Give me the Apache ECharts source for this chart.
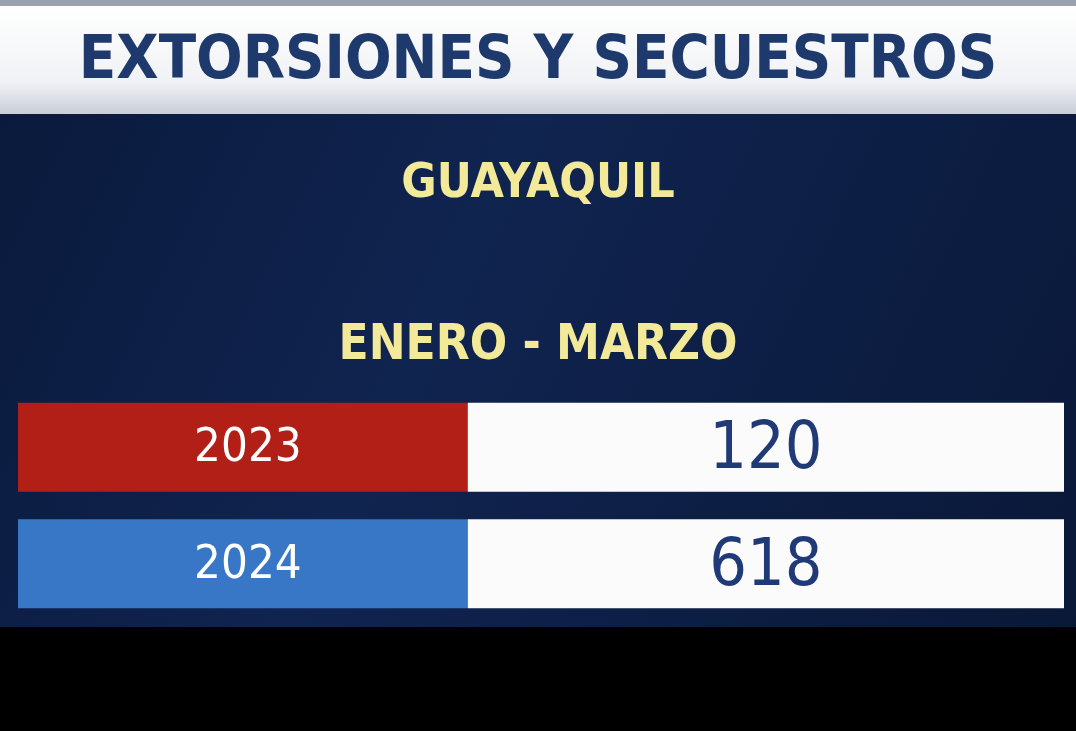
<!DOCTYPE html>
<html>
<head>
<meta charset="utf-8">
<script src="https://cdn.jsdelivr.net/npm/echarts@6/dist/echarts.min.js"></script>
<style>
  html, body { margin: 0; padding: 0; background: #000; }
  #chart { width: 1076px; height: 731px; }
</style>
</head>
<body>
<div id="chart"></div>
<script>
var titleText = 'EXTORSIONES Y SECUESTROS';
var cityText = 'GUAYAQUIL';
var periodText = 'ENERO - MARZO';
var years = ['2023', '2024'];
var values = [120, 618];
var yearColors = ['#b21f17', '#3877c6'];

var font = '"Liberation Sans Narrow", "DejaVu Sans Condensed", "Roboto", sans-serif';

var chart = echarts.init(document.getElementById('chart'));

var option = {
    backgroundColor: '#000',
    graphic: [
        { type: 'rect', shape: { x: 0, y: 0, width: 1076, height: 6 }, style: { fill: '#9aa3ad' }, z: -10 },
        { type: 'rect', shape: { x: 0, y: 6, width: 1076, height: 108 },
          style: { fill: new echarts.graphic.LinearGradient(0, 0, 0, 1, [
              { offset: 0, color: '#ffffff' }, { offset: 0.7, color: '#f1f2f5' }, { offset: 1, color: '#c9ced8' }]) }, z: -10 },
        { type: 'rect', shape: { x: 0, y: 114, width: 1076, height: 513 },
          style: { fill: new echarts.graphic.LinearGradient(0, 0, 1, 1, [
              { offset: 0, color: '#0a1a3c' }, { offset: 0.4, color: '#102450' }, { offset: 1, color: '#0a1838' }]) }, z: -10 },
        { type: 'text', left: 'center', top: 32, style: { text: titleText, fill: '#1e3a6c', font: 'bold 61px ' + font } },
        { type: 'text', left: 'center', top: 161, style: { text: cityText, fill: '#f2ea98', font: 'bold 48px ' + font } },
        { type: 'text', left: 'center', top: 322, style: { text: periodText, fill: '#f2ea98', font: 'bold 49px ' + font } }
    ],
    grid: { left: 18, right: 12, top: 389, bottom: 109 },
    xAxis: { type: 'value', min: 0, max: 100, show: false },
    yAxis: { type: 'category', data: years, inverse: true, show: false },
    series: [
        {
            type: 'bar', stack: 'row', barWidth: 89, silent: true,
            data: years.map(function (y, i) { return { value: 43, itemStyle: { color: yearColors[i] } }; }),
            label: { show: true, position: 'inside', offset: [5, 2], color: '#fff', fontSize: 47, fontWeight: 'normal', fontFamily: font,
                formatter: function (p) { return years[p.dataIndex]; } }
        },
        {
            type: 'bar', stack: 'row', barWidth: 89, silent: true,
            itemStyle: { color: '#fbfbfc' },
            data: values.map(function () { return 57; }),
            label: { show: true, position: 'inside', offset: [0, 4], color: '#1f3a76', fontSize: 66, fontWeight: 'normal', fontFamily: font,
                formatter: function (p) { return String(values[p.dataIndex]); } }
        }
    ]
};
chart.setOption(option);
</script>
</body>
</html>
